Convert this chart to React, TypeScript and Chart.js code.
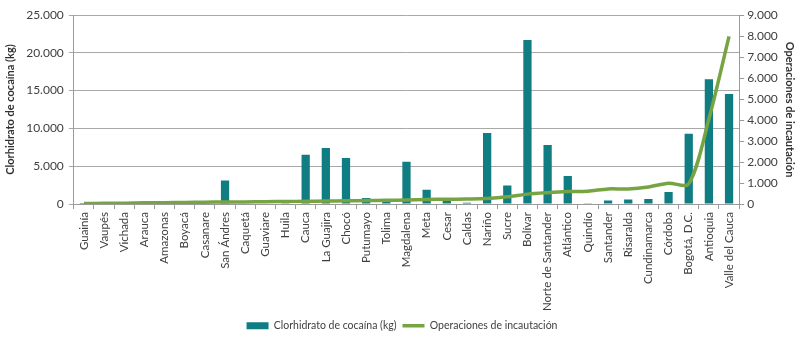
import React, { useEffect, useRef } from "react";
import { Chart, registerables } from "chart.js";

Chart.register(...registerables);

const categories = [
  "Guainía", "Vaupés", "Vichada", "Arauca", "Amazonas", "Boyacá", "Casanare", "San Ándres",
  "Caquetá", "Guaviare", "Huila", "Cauca", "La Guajira", "Chocó", "Putumayo", "Tolima",
  "Magdalena", "Meta", "Cesar", "Caldas", "Nariño", "Sucre", "Bolívar", "Norte de Santander",
  "Atlántico", "Quindío", "Santander", "Risaralda", "Cundinamarca", "Córdoba", "Bogotá, D.C.",
  "Antioquia", "Valle del Cauca",
];

const cocaineKg = [
  5, 2, 10, 20, 15, 30, 40, 3100,
  60, 50, 90, 6500, 7400, 6100, 800, 300,
  5600, 1900, 400, 150, 9400, 2450, 21700, 7800,
  3700, 100, 450, 600, 650, 1600, 9300,
  16500, 14550,
];

const operations = [
  20, 30, 40, 55, 65, 75, 85, 95,
  100, 110, 120, 130, 140, 150, 165, 175,
  190, 215, 225, 240, 265, 340, 470, 540,
  590, 610, 720, 715, 810, 990, 960,
  4050, 7980,
];

const leftTicks = [0, 5000, 10000, 15000, 20000, 25000];
const rightTicks = [0, 1000, 2000, 3000, 4000, 5000, 6000, 7000, 8000, 9000];

const fmt = (v: number) => String(v).replace(/\B(?=(\d{3})+(?!\d))/g, ".");

export default function App() {
  const ref = useRef<HTMLCanvasElement>(null);
  useEffect(() => {
    document.body.style.margin = "0";
    const ctx = ref.current!;
    const font = "Lato, 'Open Sans', sans-serif";
    const tickColor = "#404040";
    const chart = new Chart(ctx, {
      type: "bar",
      data: {
        labels: categories,
        datasets: [
          {
            type: "bar",
            label: "Clorhidrato de cocaína (kg)",
            data: cocaineKg,
            backgroundColor: "#0f7d81",
            borderWidth: 0,
            yAxisID: "y",
            categoryPercentage: 1,
            barPercentage: 0.41,
            order: 1,
            pointStyle: "rect",
          } as any,
          {
            type: "line",
            label: "Operaciones de incautación",
            data: operations,
            borderColor: "#77a443",
            backgroundColor: "#77a443",
            borderWidth: 3.5,
            pointRadius: 0,
            tension: 0.3,
            yAxisID: "y1",
            order: 0,
            pointStyle: "line",
          } as any,
        ],
      },
      options: {
        responsive: false,
        animation: false,
        layout: { padding: { top: 15, right: 0, left: 4, bottom: -3 } },
        plugins: {
          tooltip: { enabled: false },
          legend: {
            position: "bottom",
            labels: {
              usePointStyle: true,
              pointStyleWidth: 22,
              boxHeight: 7,
              color: tickColor,
              font: { family: font, size: 10.5 },
              padding: 6,
              sort: (a: any, b: any) => a.datasetIndex - b.datasetIndex,
            },
          },
        },
        scales: {
          x: {
            offset: true,
            afterFit: (s: any) => {
              s.height = 110.5;
            },
            grid: {
              offset: true,
              drawOnChartArea: false,
              drawTicks: true,
              tickLength: 5,
              color: "#9a9a9a",
            },
            border: { color: "#9a9a9a" },
            ticks: {
              autoSkip: false,
              maxRotation: 90,
              minRotation: 90,
              color: tickColor,
              font: { family: font, size: 11.5 },
              padding: 3,
            },
          },
          y: {
            position: "left",
            min: 0,
            max: 25000,
            afterBuildTicks: (s: any) => {
              s.ticks = leftTicks.map((v) => ({ value: v }));
            },
            ticks: {
              color: tickColor,
              font: { family: font, size: 12 },
              callback: (v: any) => fmt(Number(v)),
              padding: 5,
            },
            grid: { color: "#a8a8a8", tickLength: 5 },
            border: { color: "#9a9a9a" },
            title: {
              display: true,
              text: "Clorhidrato de cocaína (kg)",
              color: "#303030",
              font: { family: font, size: 11, weight: "bold" },
              padding: { top: 0, bottom: 4 },
            },
          },
          y1: {
            position: "right",
            min: 0,
            max: 9000,
            afterBuildTicks: (s: any) => {
              s.ticks = rightTicks.map((v) => ({ value: v }));
            },
            ticks: {
              color: tickColor,
              font: { family: font, size: 12 },
              callback: (v: any) => fmt(Number(v)),
              padding: 3,
            },
            grid: { drawOnChartArea: false, color: "#9a9a9a", tickLength: 5 },
            border: { color: "#9a9a9a" },
            title: {
              display: true,
              text: "Operaciones de incautación",
              color: "#303030",
              font: { family: font, size: 11, weight: "bold" },
              padding: { top: 4, bottom: 2 },
            },
          },
        },
      },
    });
    return () => chart.destroy();
  }, []);
  return (
    <div style={{ width: 800, height: 338 }}>
      <canvas ref={ref} width={800} height={338} style={{ display: "block" }} />
    </div>
  );
}
